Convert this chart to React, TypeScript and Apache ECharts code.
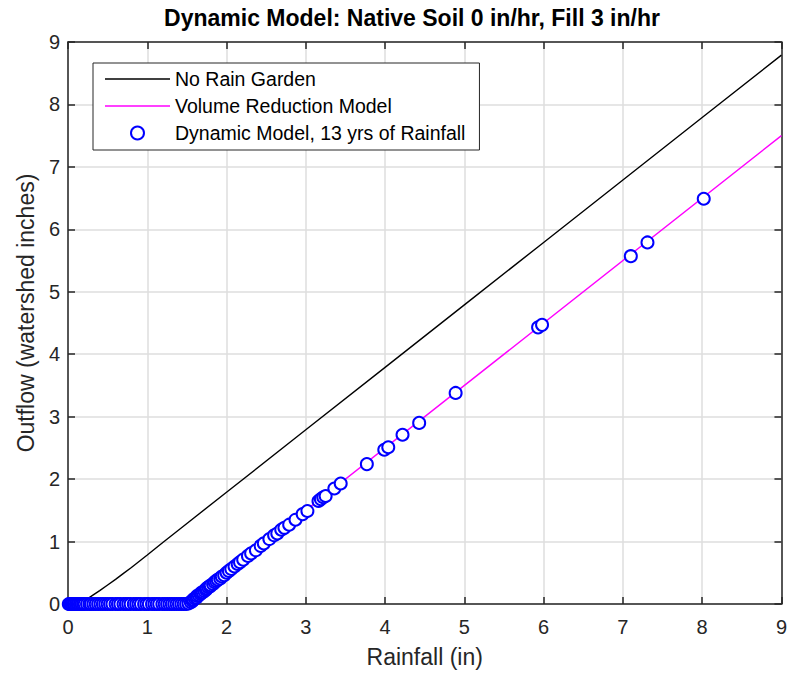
import React, { useEffect, useRef } from "react";
import * as echarts from "echarts";

const FONT = "'Liberation Sans', Arial, Helvetica, sans-serif";
const TITLE = "Dynamic Model: Native Soil 0 in/hr, Fill 3 in/hr";
const AXIS_TICKS = [0, 1, 2, 3, 4, 5, 6, 7, 8, 9];
const LEGEND_NAMES = ["No Rain Garden", "Volume Reduction Model", "Dynamic Model, 13 yrs of Rainfall"];

// No Rain Garden curve
const noRainX = [0, 0.1, 0.15, 0.2, 0.26, 0.3, 0.4, 0.5, 0.6, 0.7, 0.8, 0.9, 1.0, 1.2, 1.5, 2, 3, 4, 5, 6, 7, 8, 9];
const noRainY = [0, 0, 0.01, 0.045, 0.095, 0.13, 0.215, 0.305, 0.395, 0.49, 0.585, 0.685, 0.785, 0.99, 1.29, 1.79, 2.79, 3.79, 4.79, 5.79, 6.79, 7.79, 8.79];

// Volume Reduction Model line
const volX = [0, 1.5, 9];
const volY = [0, 0, 7.5];

// Dynamic Model, 13 yrs of rainfall (events)
const dynRain = [
  0.01, 0.02, 0.03, 0.04, 0.05, 0.07, 0.08, 0.1, 0.12, 0.13, 0.15, 0.17, 0.19, 0.21, 0.24, 0.27,
  0.29, 0.32, 0.35, 0.38, 0.41, 0.44, 0.47, 0.5, 0.53, 0.56, 0.6, 0.63, 0.66, 0.7, 0.73, 0.76,
  0.79, 0.83, 0.86, 0.89, 0.92, 0.96, 0.99, 1.02, 1.06, 1.09, 1.12, 1.15, 1.19, 1.22, 1.25, 1.28,
  1.31, 1.34, 1.37, 1.4, 1.43, 1.46, 1.49,
  1.52, 1.55, 1.57, 1.58, 1.6, 1.62, 1.63, 1.65, 1.67, 1.68, 1.7, 1.72, 1.74, 1.75, 1.77, 1.79,
  1.8, 1.83, 1.85, 1.87, 1.89, 1.92, 1.94, 1.97, 2.0, 2.03, 2.06, 2.1, 2.14, 2.17, 2.21, 2.27,
  2.31, 2.37, 2.43, 2.47, 2.54, 2.6, 2.64, 2.69, 2.73, 2.79, 2.87, 2.96, 3.02, 3.16, 3.19, 3.22,
  3.25, 3.36, 3.44, 3.77, 3.99, 4.04, 4.22, 4.43, 4.89, 5.93, 5.98, 7.1, 7.31, 8.02
];
const dynOutflow = [
  0, 0, 0, 0, 0, 0, 0, 0, 0, 0, 0, 0, 0, 0, 0, 0,
  0, 0, 0, 0, 0, 0, 0, 0, 0, 0, 0, 0, 0, 0, 0, 0,
  0, 0, 0, 0, 0, 0, 0, 0, 0, 0, 0, 0, 0, 0, 0, 0,
  0, 0, 0, 0, 0, 0, 0,
  0.01, 0.03, 0.05, 0.07, 0.09, 0.1, 0.13, 0.14, 0.16, 0.18, 0.19, 0.21, 0.23, 0.25, 0.27, 0.28,
  0.3, 0.32, 0.35, 0.37, 0.39, 0.41, 0.44, 0.46, 0.5, 0.53, 0.56, 0.6, 0.64, 0.67, 0.71, 0.77,
  0.81, 0.86, 0.93, 0.97, 1.04, 1.1, 1.13, 1.19, 1.22, 1.27, 1.35, 1.44, 1.49, 1.65, 1.68, 1.71,
  1.73, 1.85, 1.93, 2.24, 2.47, 2.51, 2.71, 2.9, 3.38, 4.43, 4.47, 5.57, 5.79, 6.49
];

const zip = (a: number[], b: number[]) => a.map((v, i) => [v, b[i]]);

const LINE_ICON = "path://M0,0 L65,0 L65,1.4 L0,1.4 Z";

export default function App() {
  const ref = useRef<HTMLDivElement>(null);
  useEffect(() => {
    if (!ref.current) return;
    const chart = echarts.init(ref.current, null, { renderer: "svg" });
    const axisColor = "#262626";
    const gridColor = "#dedede";
    const axisLine = { show: true, onZero: false, lineStyle: { color: axisColor, width: 1.5 } };
    const axisTick = { show: true, inside: true, length: 7, lineStyle: { color: axisColor, width: 1.5 } };
    const mirrorAxis = {
      type: "value" as const,
      min: 0,
      max: 9,
      interval: 1,
      axisLine,
      axisTick,
      axisLabel: { show: false },
      splitLine: { show: false },
    };
    chart.setOption({
      animation: false,
      backgroundColor: "#ffffff",
      textStyle: { fontFamily: FONT },
      graphic: [
        {
          type: "text",
          x: 412,
          y: 6,
          style: {
            text: TITLE,
            align: "center",
            verticalAlign: "top",
            fontFamily: FONT,
            fontSize: 23,
            fontWeight: "bold",
            fill: "#000",
          },
        },
      ],
      grid: { left: 68, top: 42, width: 719, height: 565, containLabel: false },
      legend: {
        orient: "vertical",
        left: 93,
        top: 63,
        padding: [6, 14, 7, 12],
        itemGap: 7,
        itemWidth: 65,
        itemHeight: 13,
        borderColor: "#262626",
        borderWidth: 1,
        backgroundColor: "#fff",
        textStyle: { fontFamily: FONT, fontSize: 19.5, color: "#000" },
        data: [
          { name: LEGEND_NAMES[0], icon: LINE_ICON },
          { name: LEGEND_NAMES[1], icon: LINE_ICON },
          { name: LEGEND_NAMES[2] },
        ],
      },
      xAxis: [
        {
          type: "value",
          min: 0,
          max: 9,
          interval: 1,
          name: "Rainfall (in)",
          nameLocation: "middle",
          nameGap: 41,
          nameTextStyle: { fontFamily: FONT, fontSize: 23, color: axisColor },
          axisLine,
          axisTick,
          axisLabel: {
            fontFamily: FONT,
            fontSize: 20,
            color: axisColor,
            margin: 13,
            formatter: (v: number) => (AXIS_TICKS.includes(v) ? String(v) : ""),
          },
          splitLine: { show: true, lineStyle: { color: gridColor, width: 1.5 } },
        },
        { ...mirrorAxis, position: "top" },
      ],
      yAxis: [
        {
          type: "value",
          min: 0,
          max: 9,
          interval: 1,
          name: "Outflow (watershed inches)",
          nameLocation: "middle",
          nameGap: 30,
          nameTextStyle: { fontFamily: FONT, fontSize: 23, color: axisColor, padding: [0, 0, 0, 20] },
          axisLine,
          axisTick,
          axisLabel: {
            fontFamily: FONT,
            fontSize: 20,
            color: axisColor,
            margin: 8,
            formatter: (v: number) => (AXIS_TICKS.includes(v) ? String(v) : ""),
          },
          splitLine: { show: true, lineStyle: { color: gridColor, width: 1.5 } },
        },
        { ...mirrorAxis, position: "right" },
      ],
      series: [
        {
          name: LEGEND_NAMES[0],
          type: "line",
          data: zip(noRainX, noRainY),
          symbol: "none",
          smooth: false,
          lineStyle: { color: "#000000", width: 1.4 },
          itemStyle: { color: "#000000" },
          z: 2,
        },
        {
          name: LEGEND_NAMES[1],
          type: "line",
          data: zip(volX, volY),
          symbol: "none",
          lineStyle: { color: "#ff00ff", width: 1.4 },
          itemStyle: { color: "#ff00ff" },
          z: 3,
        },
        {
          name: LEGEND_NAMES[2],
          type: "scatter",
          data: zip(dynRain, dynOutflow),
          symbol: "emptyCircle",
          symbolSize: 12,
          itemStyle: { color: "#0000ff", borderColor: "#0000ff", borderWidth: 1.5, opacity: 1 },
          z: 4,
        },
      ],
    });
    return () => chart.dispose();
  }, []);
  return (
    <div
      ref={ref}
      style={{ position: "fixed", left: 0, top: 0, width: 790, height: 673, background: "#fff" }}
    />
  );
}
